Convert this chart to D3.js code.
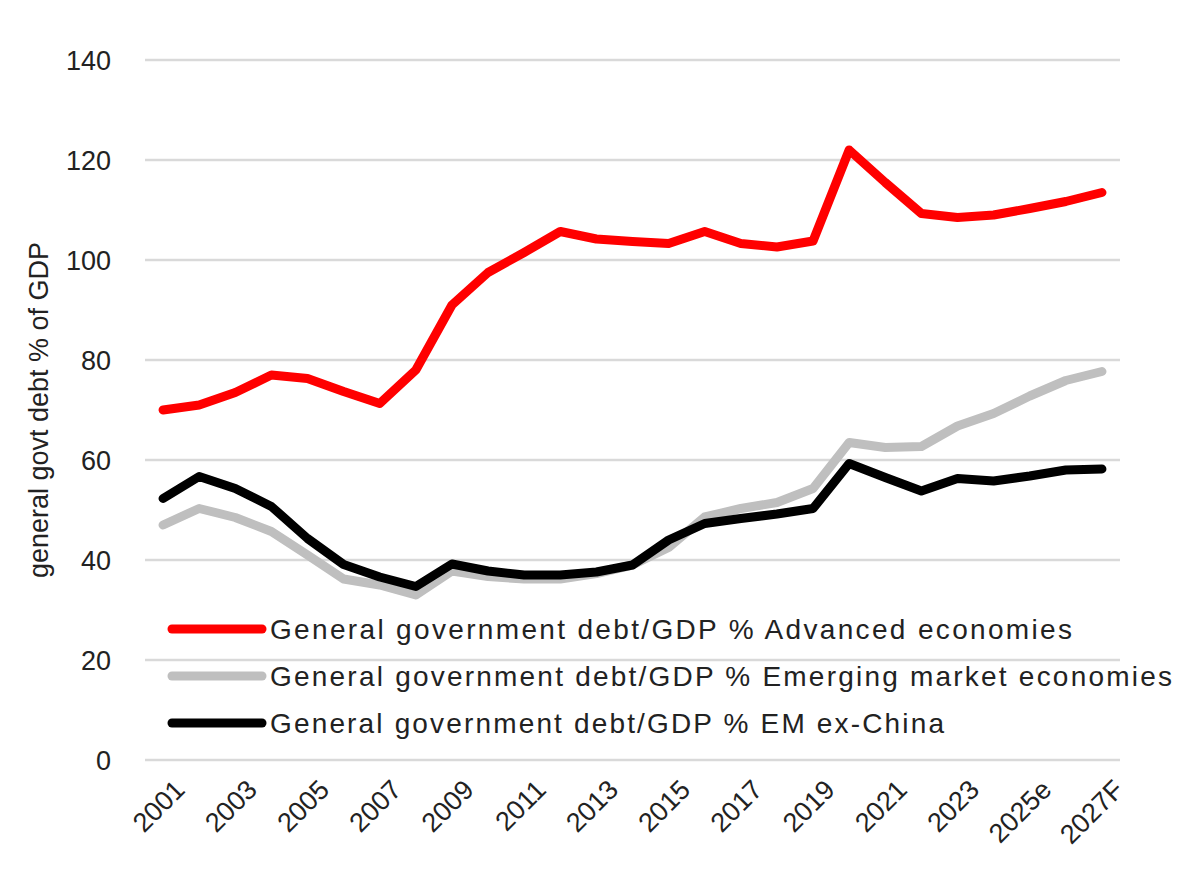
<!DOCTYPE html>
<html><head><meta charset="utf-8">
<script src="https://cdn.jsdelivr.net/npm/d3@7"></script>
<style>body{margin:0;background:#fff;font-family:"Liberation Sans",Arial,sans-serif}</style>
</head><body><svg id="c" width="1203" height="890"></svg>
<script>
var years = ["2001","2002","2003","2004","2005","2006","2007","2008","2009","2010","2011","2012","2013","2014","2015","2016","2017","2018","2019","2020","2021","2022","2023","2024","2025e","2026","2027F"];
var advanced = [70,71,73.5,77,76.3,73.7,71.3,78,91,97.5,101.5,105.7,104.2,103.7,103.3,105.7,103.3,102.6,103.8,122,115.5,109.3,108.5,109,110.3,111.7,113.5];
var emerging = [47,50.3,48.5,45.7,41,36.2,35,33,37.8,36.7,36.2,36.2,37.3,39,42.5,48.6,50.3,51.5,54.3,63.5,62.5,62.7,66.8,69.3,72.8,75.9,77.7];
var exChina = [52.3,56.7,54.3,50.7,44.3,39.1,36.6,34.7,39.2,37.8,37,37,37.6,39,44,47.3,48.3,49.2,50.3,59.3,56.5,53.8,56.3,55.8,56.8,58,58.2];
var yTicks = [0,20,40,60,80,100,120,140];
var series = [
  {name:"General government debt/GDP % Advanced economies", values:advanced, color:"#ff0000"},
  {name:"General government debt/GDP % Emerging market economies", values:emerging, color:"#bfbfbf"},
  {name:"General government debt/GDP % EM ex-China", values:exChina, color:"#000000"}
];

var svg = d3.select("#c");
var x = d3.scaleBand().domain(years).range([145,1120]);
var y = d3.scaleLinear().domain([0,140]).range([760,60]);
var cx = d => x(d) + x.bandwidth()/2;

svg.append("g").selectAll("line").data(yTicks).enter().append("line")
  .attr("x1",145).attr("x2",1120).attr("y1",d=>y(d)).attr("y2",d=>y(d))
  .attr("stroke","#d9d9d9").attr("stroke-width",2.5);

svg.append("g").selectAll("text").data(yTicks).enter().append("text")
  .attr("x",111).attr("y",d=>y(d)).attr("dy","0.36em").attr("text-anchor","end")
  .attr("font-size",27).attr("fill","#222").text(d=>d);

svg.append("g").selectAll("text").data(years.filter((d,i)=>i%2===0)).enter().append("text")
  .attr("transform",d=>"translate("+(cx(d)+10)+",778) rotate(-45)")
  .attr("text-anchor","end").attr("dy","0.7em").attr("font-size",27).attr("fill","#222").text(d=>d);

svg.append("text").attr("transform","translate(48,410) rotate(-90)").attr("text-anchor","middle")
  .attr("font-size",27).attr("fill","#222").text("general govt debt % of GDP");

var line = d3.line().x((d,i)=>cx(years[i])).y(d=>y(d));
[1,2,0].forEach(function(k){
  var s = series[k];
  svg.append("path").datum(s.values).attr("d",line).attr("fill","none")
    .attr("stroke",s.color).attr("stroke-width",9).attr("stroke-linejoin","round").attr("stroke-linecap","round");
});

var lg = svg.append("g").selectAll("g").data(series).enter().append("g")
  .attr("transform",(d,i)=>"translate(0,"+(629+i*47)+")");
lg.append("line").attr("x1",172).attr("x2",262).attr("stroke",d=>d.color).attr("stroke-width",9).attr("stroke-linecap","round");
lg.append("text").attr("x",270).attr("dy","0.36em").attr("font-size",28).attr("fill","#222")
  .attr("textLength",(d,i)=>[802,902,674][i]).attr("lengthAdjust","spacing").text(d=>d.name);
</script></body></html>
